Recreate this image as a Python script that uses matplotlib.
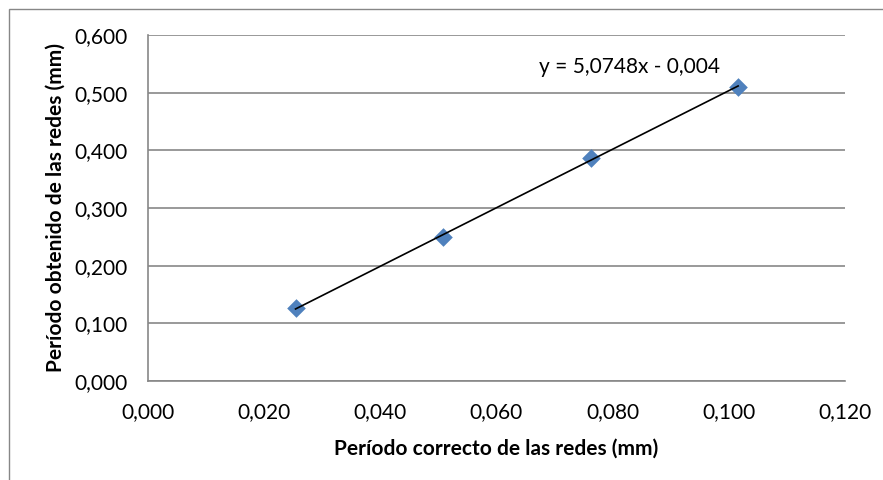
import matplotlib
matplotlib.use("Agg")
import matplotlib.pyplot as plt
import numpy as np
from matplotlib.patches import Rectangle
from matplotlib.ticker import FuncFormatter

plt.rcParams['font.family'] = ['Lato', 'DejaVu Sans']

x_correct = [0.0254, 0.0508, 0.0762, 0.1016]
y_obtained = [0.127, 0.249, 0.386, 0.510]
slope = 5.0748
intercept = -0.004
equation_label = "y = 5,0748x - 0,004"
x_ticks = [0.0, 0.02, 0.04, 0.06, 0.08, 0.10, 0.12]
y_ticks = [0.0, 0.1, 0.2, 0.3, 0.4, 0.5, 0.6]
x_title = "Período correcto de las redes (mm)"
y_title = "Período obtenido de las redes (mm)"

W, H = 883, 480
fig = plt.figure(figsize=(W / 100, H / 100), dpi=100)
fig.patch.set_facecolor('white')
fig.patches.append(Rectangle((9 / W, -0.1), 1.0, 1 - 9 / H + 0.1, transform=fig.transFigure,
                             fill=False, edgecolor='#878787', linewidth=1.0))

ax = fig.add_axes([148 / W, 1 - 381 / H, (845 - 148) / W, (381 - 35) / H])
ax.set_xlim(0, 0.12)
ax.set_ylim(0, 0.6)
ax.set_xticks(x_ticks)
ax.set_yticks(y_ticks)
fmt = FuncFormatter(lambda v, p: f"{v:.3f}".replace('.', ','))
ax.xaxis.set_major_formatter(fmt)
ax.yaxis.set_major_formatter(fmt)
ax.tick_params(length=0, labelsize=15, colors='black')
ax.tick_params(axis='y', pad=15)
ax.tick_params(axis='x', pad=15)
ax.grid(axis='y', color='#878787', linewidth=1.2)
ax.set_axisbelow(True)
for s in ['top', 'right']:
    ax.spines[s].set_visible(False)
for s in ['left', 'bottom']:
    ax.spines[s].set_color('#878787')
    ax.spines[s].set_linewidth(1.2)

xs = np.array([min(x_correct), max(x_correct)])
ax.plot(xs, slope * xs + intercept, color='black', linewidth=1.2, zorder=3)
ax.scatter(x_correct, y_obtained, marker='D', s=90, color='#4F81BD', zorder=2, linewidths=0)

ax.text(0.0673, 0.5445, equation_label, fontsize=15, ha='left', va='center')

ax.set_xlabel(x_title, fontsize=15, fontweight='bold', labelpad=12)
ax.set_ylabel(y_title, fontsize=15, fontweight='bold', labelpad=6)

fig.savefig('out.png', dpi=100)
